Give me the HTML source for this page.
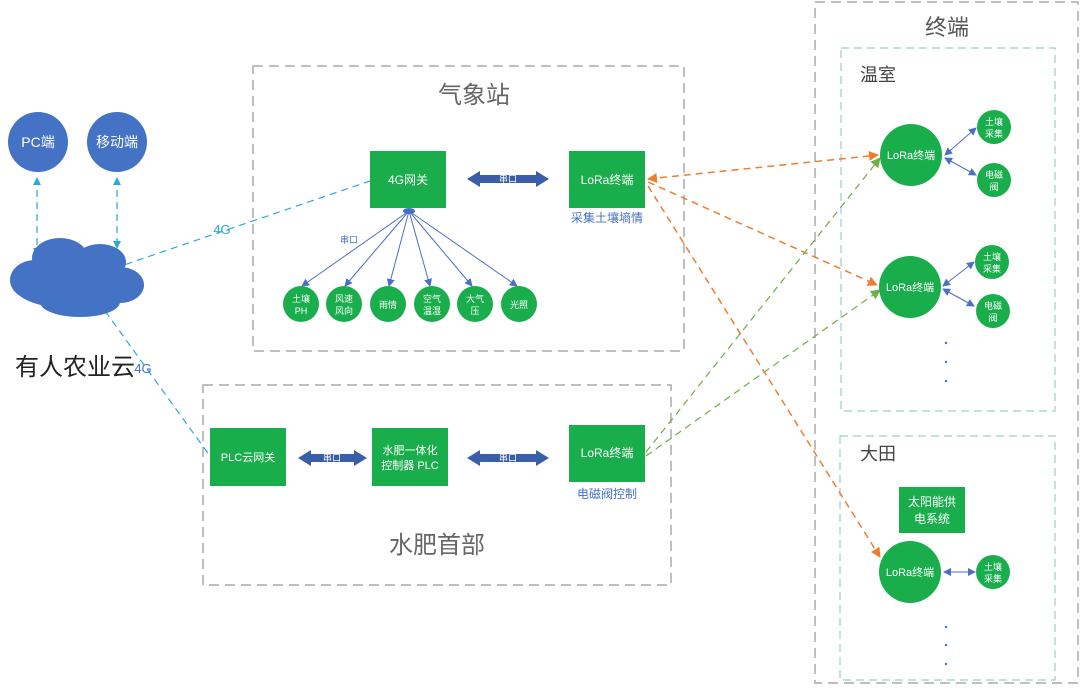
<!DOCTYPE html>
<html><head><meta charset="utf-8"><style>
body{margin:0;background:#fff}
svg text{font-family:"Liberation Sans","Noto Sans CJK SC",sans-serif}
</style></head><body>
<svg width="1080" height="685" viewBox="0 0 1080 685" xmlns="http://www.w3.org/2000/svg">
<defs>
<marker id="ab" markerWidth="8" markerHeight="8" refX="7" refY="4" orient="auto" markerUnits="userSpaceOnUse"><path d="M0,0 L8,4 L0,8 z" fill="#4a6fc4"/></marker>
<marker id="abs" markerWidth="8" markerHeight="8" refX="1" refY="4" orient="auto" markerUnits="userSpaceOnUse"><path d="M8,0 L0,4 L8,8 z" fill="#4a6fc4"/></marker>
<marker id="ac" markerWidth="8" markerHeight="8" refX="7" refY="4" orient="auto" markerUnits="userSpaceOnUse"><path d="M0,0 L8,4 L0,8 z" fill="#29a9d8"/></marker>
<marker id="acs" markerWidth="8" markerHeight="8" refX="1" refY="4" orient="auto" markerUnits="userSpaceOnUse"><path d="M8,0 L0,4 L8,8 z" fill="#29a9d8"/></marker>
<marker id="ao" markerWidth="10" markerHeight="10" refX="9" refY="5" orient="auto" markerUnits="userSpaceOnUse"><path d="M0,0 L10,5 L0,10 z" fill="#ed7d31"/></marker>
<marker id="aos" markerWidth="10" markerHeight="10" refX="1" refY="5" orient="auto" markerUnits="userSpaceOnUse"><path d="M10,0 L0,5 L10,10 z" fill="#ed7d31"/></marker>
<marker id="ag" markerWidth="10" markerHeight="10" refX="9" refY="5" orient="auto" markerUnits="userSpaceOnUse"><path d="M0,0 L10,5 L0,10 z" fill="#70ad47"/></marker>
</defs>

<!-- dashed boxes -->
<rect x="253" y="66" width="431" height="285" fill="none" stroke="#aaa" stroke-width="1.5" stroke-dasharray="10,6"/>
<rect x="203" y="385" width="468" height="200" fill="none" stroke="#aaa" stroke-width="1.5" stroke-dasharray="10,6"/>
<rect x="815" y="2" width="263" height="681" fill="none" stroke="#aaa" stroke-width="1.5" stroke-dasharray="10,6"/>
<rect x="841" y="48" width="214" height="363" fill="none" stroke="#9ccfc4" stroke-width="1.2" stroke-dasharray="8,5"/>
<rect x="840" y="436" width="215" height="244" fill="none" stroke="#9ccfc4" stroke-width="1.2" stroke-dasharray="8,5"/>

<text x="474" y="103" font-size="24" fill="#666" text-anchor="middle">气象站</text>
<text x="437" y="553" font-size="24" fill="#666" text-anchor="middle">水肥首部</text>
<text x="947" y="35" font-size="22" fill="#555" text-anchor="middle">终端</text>
<text x="860" y="81" font-size="18" fill="#444">温室</text>
<text x="860" y="460" font-size="18" fill="#444">大田</text>

<!-- connector lines -->
<g stroke-dasharray="7,5" fill="none" stroke-width="1.2">
<line x1="80" y1="280" x2="370" y2="181" stroke="#29a9d8"/>
<line x1="84" y1="282" x2="210" y2="456" stroke="#29a9d8"/>
<line x1="37" y1="178" x2="37" y2="255" stroke="#29a9d8" marker-end="url(#ac)" marker-start="url(#acs)"/>
<line x1="117" y1="178" x2="117" y2="248" stroke="#29a9d8" marker-end="url(#ac)" marker-start="url(#acs)"/>
<line x1="648" y1="179" x2="878" y2="155" stroke="#ed7d31" stroke-width="1.5" marker-start="url(#aos)" marker-end="url(#ao)"/>
<line x1="648" y1="182" x2="877" y2="285" stroke="#ed7d31" stroke-width="1.5" marker-end="url(#ao)"/>
<line x1="648" y1="186" x2="880" y2="557" stroke="#ed7d31" stroke-width="1.5" marker-end="url(#ao)"/>
<line x1="646" y1="452" x2="880" y2="158" stroke="#70ad47" marker-end="url(#ag)"/>
<line x1="646" y1="456" x2="880" y2="290" stroke="#70ad47" marker-end="url(#ag)"/>
</g>
<text x="222" y="234" font-size="13" fill="#29a9d8" text-anchor="middle">4G</text>
<text x="143" y="373" font-size="13" fill="#4472c4" text-anchor="middle">4G</text>

<!-- PC / mobile -->
<circle cx="38" cy="142" r="30" fill="#4472c4"/>
<text x="38" y="147" font-size="14" fill="#fff" text-anchor="middle">PC端</text>
<circle cx="117" cy="142" r="30" fill="#4472c4"/>
<text x="117" y="147" font-size="14" fill="#fff" text-anchor="middle">移动端</text>

<!-- cloud -->
<g fill="#4472c4">
<ellipse cx="75" cy="285" rx="62" ry="24"/>
<ellipse cx="60" cy="258" rx="28" ry="20"/>
<ellipse cx="100" cy="262" rx="26" ry="18"/>
<ellipse cx="35" cy="280" rx="25" ry="20"/>
<ellipse cx="120" cy="285" rx="24" ry="18"/>
<ellipse cx="80" cy="302" rx="40" ry="15"/>
</g>
<text x="75" y="375" font-size="24" fill="#222" text-anchor="middle">有人农业云</text>

<!-- weather station -->
<rect x="370" y="151" width="76" height="57" fill="#19ae4b"/>
<text x="408" y="184" font-size="12" fill="#fff" text-anchor="middle">4G网关</text>
<rect x="569" y="151" width="76" height="57" fill="#19ae4b"/>
<text x="607" y="184" font-size="12" fill="#fff" text-anchor="middle">LoRa终端</text>
<text x="607" y="222" font-size="12" fill="#4472c4" text-anchor="middle">采集土壤墒情</text>
<path d="M467,179 L480,171 L480,175 L536,175 L536,171 L549,179 L536,187 L536,183 L480,183 L480,187 z" fill="#3b5ea8"/>
<text x="508" y="182" font-size="9" fill="#fff" text-anchor="middle">串口</text>
<ellipse cx="409" cy="211" rx="6" ry="3" fill="#4472c4"/>
<g stroke="#4a6fc4" stroke-width="1" marker-end="url(#ab)">
<line x1="409" y1="211" x2="302" y2="286"/>
<line x1="409" y1="211" x2="345" y2="286"/>
<line x1="409" y1="211" x2="389" y2="286"/>
<line x1="409" y1="211" x2="430" y2="286"/>
<line x1="409" y1="211" x2="472" y2="286"/>
<line x1="409" y1="211" x2="517" y2="286"/>
</g>
<text x="349" y="243" font-size="9" fill="#4472c4" text-anchor="middle">串口</text>
<g fill="#19ae4b"><circle cx="301" cy="304" r="18"/><circle cx="344" cy="304" r="18"/><circle cx="388" cy="304" r="18"/><circle cx="432" cy="304" r="18"/><circle cx="475" cy="304" r="18"/><circle cx="519" cy="304" r="18"/></g>
<g font-size="9" fill="#fff" text-anchor="middle">
<text x="301" y="302">土壤</text><text x="301" y="314">PH</text>
<text x="344" y="302">风速</text><text x="344" y="314">风向</text>
<text x="388" y="308">雨情</text>
<text x="432" y="302">空气</text><text x="432" y="314">温湿</text>
<text x="475" y="302">大气</text><text x="475" y="314">压</text>
<text x="519" y="308">光照</text>
</g>

<!-- water -->
<rect x="210" y="428" width="76" height="58" fill="#19ae4b"/>
<text x="248" y="461" font-size="11" fill="#fff" text-anchor="middle">PLC云网关</text>
<rect x="372" y="428" width="76" height="58" fill="#19ae4b"/>
<text x="410" y="454" font-size="11" fill="#fff" text-anchor="middle">水肥一体化</text>
<text x="410" y="469" font-size="11" fill="#fff" text-anchor="middle">控制器 PLC</text>
<rect x="569" y="425" width="76" height="57" fill="#19ae4b"/>
<text x="607" y="457" font-size="12" fill="#fff" text-anchor="middle">LoRa终端</text>
<text x="607" y="498" font-size="12" fill="#4472c4" text-anchor="middle">电磁阀控制</text>
<path d="M298,458 L311,450 L311,454 L354,454 L354,450 L367,458 L354,466 L354,462 L311,462 L311,466 z" fill="#3b5ea8"/>
<text x="332" y="461" font-size="9" fill="#fff" text-anchor="middle">串口</text>
<path d="M467,458 L480,450 L480,454 L536,454 L536,450 L549,458 L536,466 L536,462 L480,462 L480,466 z" fill="#3b5ea8"/>
<text x="508" y="461" font-size="9" fill="#fff" text-anchor="middle">串口</text>

<!-- terminals -->
<g stroke="#4a6fc4" stroke-width="1" marker-end="url(#ab)" marker-start="url(#abs)">
<line x1="945" y1="155" x2="976" y2="128"/>
<line x1="945" y1="158" x2="976" y2="175"/>
<line x1="943" y1="286" x2="974" y2="262"/>
<line x1="943" y1="289" x2="974" y2="306"/>
<line x1="944" y1="572" x2="975" y2="572"/>
</g>
<g fill="#19ae4b">
<circle cx="911" cy="155" r="31"/><circle cx="994" cy="127" r="17"/><circle cx="994" cy="180" r="17"/>
<circle cx="910" cy="287" r="31"/><circle cx="992" cy="262" r="17"/><circle cx="993" cy="311" r="17"/>
<circle cx="910" cy="572" r="31"/><circle cx="993" cy="572" r="17"/>
<rect x="899" y="487" width="66" height="46"/>
</g>
<g fill="#fff" text-anchor="middle">
<text x="911" y="159" font-size="11">LoRa终端</text>
<text x="910" y="291" font-size="11">LoRa终端</text>
<text x="910" y="576" font-size="11">LoRa终端</text>
<text x="932" y="506" font-size="12">太阳能供</text>
<text x="932" y="523" font-size="12">电系统</text>
<g font-size="9">
<text x="994" y="125">土壤</text><text x="994" y="137">采集</text>
<text x="994" y="178">电磁</text><text x="994" y="190">阀</text>
<text x="992" y="260">土壤</text><text x="992" y="272">采集</text>
<text x="993" y="309">电磁</text><text x="993" y="321">阀</text>
<text x="993" y="570">土壤</text><text x="993" y="582">采集</text>
</g></g>
<g fill="#4472c4"><circle cx="946" cy="343" r="1.2"/><circle cx="946" cy="362" r="1.2"/><circle cx="946" cy="381" r="1.2"/>
<circle cx="946" cy="627" r="1.2"/><circle cx="946" cy="645" r="1.2"/><circle cx="946" cy="664" r="1.2"/></g>
</svg>
</body></html>
